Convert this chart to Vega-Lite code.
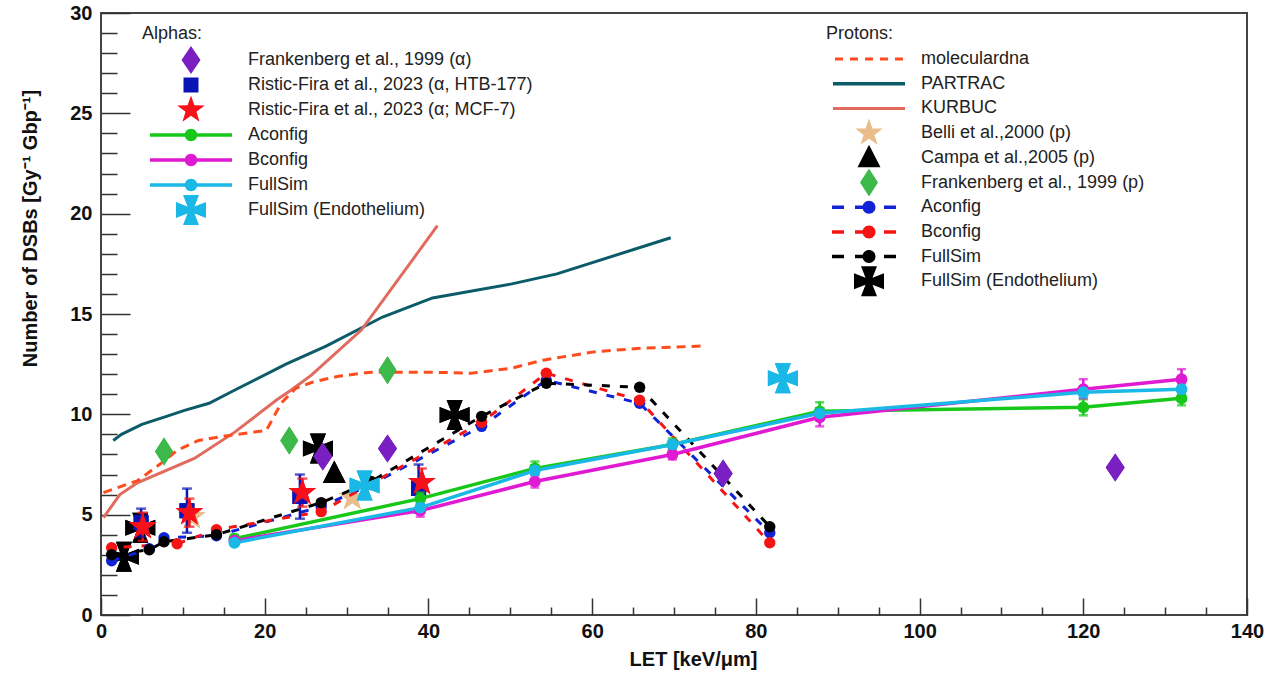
{
  "$schema": "https://vega.github.io/schema/vega-lite/v6.json",
  "width": 1146,
  "height": 602,
  "autosize": {"type": "none"},
  "padding": {"left": 101, "top": 13, "right": 21, "bottom": 58},
  "background": "white",
  "config": {
    "view": {"stroke": "#444", "strokeWidth": 2},
    "font": "Liberation Sans"
  },
  "datasets": {
    "alpha_sim": [
      {"series": "Aconfig", "LET": 16.3, "DSB": 3.8, "lo": 3.6, "hi": 4.0},
      {"series": "Aconfig", "LET": 39, "DSB": 5.8, "lo": 5.5, "hi": 6.1},
      {"series": "Aconfig", "LET": 53, "DSB": 7.3, "lo": 7.0, "hi": 7.65},
      {"series": "Aconfig", "LET": 69.8, "DSB": 8.5, "lo": 8.2, "hi": 8.8},
      {"series": "Aconfig", "LET": 87.8, "DSB": 10.15, "lo": 9.75, "hi": 10.6},
      {"series": "Aconfig", "LET": 120, "DSB": 10.35, "lo": 9.95, "hi": 10.75},
      {"series": "Aconfig", "LET": 132, "DSB": 10.8, "lo": 10.45, "hi": 11.15},
      {"series": "Bconfig", "LET": 16.3, "DSB": 3.7, "lo": 3.5, "hi": 3.9},
      {"series": "Bconfig", "LET": 39, "DSB": 5.2, "lo": 4.9, "hi": 5.5},
      {"series": "Bconfig", "LET": 53, "DSB": 6.65, "lo": 6.35, "hi": 6.95},
      {"series": "Bconfig", "LET": 69.8, "DSB": 8.0, "lo": 7.75, "hi": 8.3},
      {"series": "Bconfig", "LET": 87.8, "DSB": 9.85, "lo": 9.4, "hi": 10.3},
      {"series": "Bconfig", "LET": 120, "DSB": 11.25, "lo": 10.8, "hi": 11.75},
      {"series": "Bconfig", "LET": 132, "DSB": 11.75, "lo": 11.3, "hi": 12.25},
      {"series": "FullSim", "LET": 16.3, "DSB": 3.6, "lo": 3.45, "hi": 3.75},
      {"series": "FullSim", "LET": 39, "DSB": 5.35, "lo": 5.1, "hi": 5.6},
      {"series": "FullSim", "LET": 53, "DSB": 7.2, "lo": 7.0, "hi": 7.45},
      {"series": "FullSim", "LET": 69.8, "DSB": 8.5, "lo": 8.3, "hi": 8.7},
      {"series": "FullSim", "LET": 87.8, "DSB": 10.05, "lo": 9.8, "hi": 10.3},
      {"series": "FullSim", "LET": 120, "DSB": 11.1, "lo": 10.85, "hi": 11.35},
      {"series": "FullSim", "LET": 132, "DSB": 11.25, "lo": 11.0, "hi": 11.5}
    ],
    "alpha_exp": [
      {"series": "Frankenberg et al., 1999 (α)", "LET": 27.1, "DSB": 7.9},
      {"series": "Frankenberg et al., 1999 (α)", "LET": 35, "DSB": 8.3},
      {"series": "Frankenberg et al., 1999 (α)", "LET": 76, "DSB": 7.05},
      {"series": "Frankenberg et al., 1999 (α)", "LET": 123.9, "DSB": 7.35},
      {"series": "Ristic-Fira et al., 2023 (α, HTB-177)", "LET": 4.9, "DSB": 4.6, "lo": 3.9, "hi": 5.3},
      {"series": "Ristic-Fira et al., 2023 (α, HTB-177)", "LET": 10.5, "DSB": 5.2, "lo": 4.1, "hi": 6.3},
      {"series": "Ristic-Fira et al., 2023 (α, HTB-177)", "LET": 24.3, "DSB": 5.9, "lo": 4.8, "hi": 7.0},
      {"series": "Ristic-Fira et al., 2023 (α, HTB-177)", "LET": 38.8, "DSB": 6.3, "lo": 5.1, "hi": 7.5},
      {"series": "Ristic-Fira et al., 2023 (α; MCF-7)", "LET": 5.1, "DSB": 4.4, "lo": 3.7, "hi": 5.1},
      {"series": "Ristic-Fira et al., 2023 (α; MCF-7)", "LET": 10.8, "DSB": 5.1, "lo": 4.4, "hi": 5.8},
      {"series": "Ristic-Fira et al., 2023 (α; MCF-7)", "LET": 24.6, "DSB": 6.1, "lo": 5.4, "hi": 6.8},
      {"series": "Ristic-Fira et al., 2023 (α; MCF-7)", "LET": 39.2, "DSB": 6.6, "lo": 5.9, "hi": 7.3},
      {"series": "FullSim (Endothelium)", "LET": 32.2, "DSB": 6.45},
      {"series": "FullSim (Endothelium)", "LET": 83.3, "DSB": 11.8}
    ],
    "proton_models": [
      {"series": "PARTRAC", "LET": 1.5, "DSB": 8.7},
      {"series": "PARTRAC", "LET": 2.5, "DSB": 9.0},
      {"series": "PARTRAC", "LET": 5, "DSB": 9.5},
      {"series": "PARTRAC", "LET": 8, "DSB": 9.9},
      {"series": "PARTRAC", "LET": 10.2, "DSB": 10.2},
      {"series": "PARTRAC", "LET": 13.2, "DSB": 10.55},
      {"series": "PARTRAC", "LET": 16.3, "DSB": 11.2},
      {"series": "PARTRAC", "LET": 22.6, "DSB": 12.5},
      {"series": "PARTRAC", "LET": 27.5, "DSB": 13.4},
      {"series": "PARTRAC", "LET": 34.4, "DSB": 14.85},
      {"series": "PARTRAC", "LET": 40.5, "DSB": 15.8},
      {"series": "PARTRAC", "LET": 50.2, "DSB": 16.5},
      {"series": "PARTRAC", "LET": 55.7, "DSB": 17.0},
      {"series": "PARTRAC", "LET": 69.6, "DSB": 18.8},
      {"series": "KURBUC", "LET": 0.3, "DSB": 4.85},
      {"series": "KURBUC", "LET": 2.3, "DSB": 6.0},
      {"series": "KURBUC", "LET": 4.5, "DSB": 6.6},
      {"series": "KURBUC", "LET": 11.4, "DSB": 7.8},
      {"series": "KURBUC", "LET": 16.3, "DSB": 9.1},
      {"series": "KURBUC", "LET": 21.4, "DSB": 10.7},
      {"series": "KURBUC", "LET": 23.2, "DSB": 11.2},
      {"series": "KURBUC", "LET": 25.7, "DSB": 11.95},
      {"series": "KURBUC", "LET": 31.8, "DSB": 14.2},
      {"series": "KURBUC", "LET": 41.1, "DSB": 19.4},
      {"series": "moleculardna", "LET": 0.3, "DSB": 6.1},
      {"series": "moleculardna", "LET": 4.5, "DSB": 6.7},
      {"series": "moleculardna", "LET": 7.8, "DSB": 7.7},
      {"series": "moleculardna", "LET": 9.3, "DSB": 8.2},
      {"series": "moleculardna", "LET": 11.9, "DSB": 8.7},
      {"series": "moleculardna", "LET": 15.7, "DSB": 8.95},
      {"series": "moleculardna", "LET": 20.2, "DSB": 9.2},
      {"series": "moleculardna", "LET": 22.0, "DSB": 10.55},
      {"series": "moleculardna", "LET": 23.8, "DSB": 11.3},
      {"series": "moleculardna", "LET": 25.8, "DSB": 11.6},
      {"series": "moleculardna", "LET": 29, "DSB": 11.9},
      {"series": "moleculardna", "LET": 33, "DSB": 12.1},
      {"series": "moleculardna", "LET": 40.3, "DSB": 12.1},
      {"series": "moleculardna", "LET": 45.2, "DSB": 12.05},
      {"series": "moleculardna", "LET": 50.2, "DSB": 12.3},
      {"series": "moleculardna", "LET": 54, "DSB": 12.7},
      {"series": "moleculardna", "LET": 60, "DSB": 13.1},
      {"series": "moleculardna", "LET": 66, "DSB": 13.3},
      {"series": "moleculardna", "LET": 73.3, "DSB": 13.4}
    ],
    "proton_sim": [
      {"series": "Aconfig", "LET": 1.3, "DSB": 2.7},
      {"series": "Aconfig", "LET": 5.9, "DSB": 3.3},
      {"series": "Aconfig", "LET": 7.7, "DSB": 3.85},
      {"series": "Aconfig", "LET": 14.1, "DSB": 3.95},
      {"series": "Aconfig", "LET": 26.9, "DSB": 5.4},
      {"series": "Aconfig", "LET": 33, "DSB": 6.5},
      {"series": "Aconfig", "LET": 46.5, "DSB": 9.4},
      {"series": "Aconfig", "LET": 54.4, "DSB": 11.7},
      {"series": "Aconfig", "LET": 65.8, "DSB": 10.55},
      {"series": "Aconfig", "LET": 81.7, "DSB": 4.1},
      {"series": "Bconfig", "LET": 1.3, "DSB": 3.35},
      {"series": "Bconfig", "LET": 9.3, "DSB": 3.55},
      {"series": "Bconfig", "LET": 14.1, "DSB": 4.25},
      {"series": "Bconfig", "LET": 26.9, "DSB": 5.15},
      {"series": "Bconfig", "LET": 33, "DSB": 6.55},
      {"series": "Bconfig", "LET": 46.5, "DSB": 9.6},
      {"series": "Bconfig", "LET": 54.4, "DSB": 12.05},
      {"series": "Bconfig", "LET": 65.8, "DSB": 10.7},
      {"series": "Bconfig", "LET": 81.7, "DSB": 3.6},
      {"series": "FullSim", "LET": 1.3, "DSB": 3.0},
      {"series": "FullSim", "LET": 5.9, "DSB": 3.25},
      {"series": "FullSim", "LET": 7.7, "DSB": 3.65},
      {"series": "FullSim", "LET": 14.1, "DSB": 4.0},
      {"series": "FullSim", "LET": 26.9, "DSB": 5.6},
      {"series": "FullSim", "LET": 33, "DSB": 6.65},
      {"series": "FullSim", "LET": 46.5, "DSB": 9.9},
      {"series": "FullSim", "LET": 54.4, "DSB": 11.55},
      {"series": "FullSim", "LET": 65.8, "DSB": 11.35},
      {"series": "FullSim", "LET": 81.7, "DSB": 4.4}
    ],
    "proton_exp": [
      {"series": "Belli et al.,2000 (p)", "LET": 11.1, "DSB": 4.9},
      {"series": "Belli et al.,2000 (p)", "LET": 30.7, "DSB": 5.85},
      {"series": "Campa et al.,2005 (p)", "LET": 28.5, "DSB": 7.05},
      {"series": "Frankenberg et al., 1999 (p)", "LET": 7.7, "DSB": 8.15},
      {"series": "Frankenberg et al., 1999 (p)", "LET": 23.0, "DSB": 8.7},
      {"series": "Frankenberg et al., 1999 (p)", "LET": 35.0, "DSB": 12.2},
      {"series": "FullSim (Endothelium)", "LET": 2.8, "DSB": 2.9},
      {"series": "FullSim (Endothelium)", "LET": 4.8, "DSB": 4.35},
      {"series": "FullSim (Endothelium)", "LET": 26.5, "DSB": 8.3},
      {"series": "FullSim (Endothelium)", "LET": 43.2, "DSB": 9.97}
    ]
  },
  "layer": [
    {
      "data": {"values": []},
      "mark": {"type": "point", "opacity": 0},
      "encoding": {
        "x": {"field": "LET", "type": "quantitative", "scale": {"domain": [0, 140], "nice": false, "zero": false},
          "axis": {"orient": "bottom", "values": [0, 20, 40, 60, 80, 100, 120, 140], "ticks": false, "domain": false, "grid": false,
            "labelFont": "Liberation Sans", "labelFontWeight": "bold", "labelFontSize": 20, "labelColor": "#111", "labelPadding": 6,
            "labelFlush": false, "labelOverlap": false,
            "title": "LET [keV/μm]", "titleFont": "Liberation Sans", "titleFontSize": 20, "titleFontWeight": "bold", "titleColor": "#111",
            "titleX": 592, "titleY": 34, "titleBaseline": "top"}},
        "y": {"field": "DSB", "type": "quantitative", "scale": {"domain": [0, 30], "nice": false},
          "axis": {"orient": "left", "values": [0, 5, 10, 15, 20, 25, 30], "ticks": false, "domain": false, "grid": false,
            "labelFont": "Liberation Sans", "labelFontWeight": "bold", "labelFontSize": 20, "labelColor": "#111", "labelPadding": 9,
            "labelFlush": false, "labelOverlap": false,
            "title": "Number of DSBs [Gy⁻¹ Gbp⁻¹]", "titleFont": "Liberation Sans", "titleFontSize": 20, "titleFontWeight": "bold", "titleColor": "#111",
            "titleX": -61, "titleY": 215, "titleAlign": "center"}}
      }
    },
    {
      "data": {"values": []},
      "mark": {"type": "point", "opacity": 0},
      "encoding": {
        "x": {"field": "LET", "type": "quantitative", "scale": {"domain": [0, 140], "nice": false, "zero": false},
          "axis": {"orient": "bottom", "values": [0, 20, 40, 60, 80, 100, 120, 140], "labels": false, "domain": false, "grid": false,
            "ticks": true, "tickSize": -17, "tickWidth": 1.5, "tickColor": "#333", "title": null}},
        "y": {"field": "DSB", "type": "quantitative", "scale": {"domain": [0, 30], "nice": false},
          "axis": {"orient": "left", "values": [0, 5, 10, 15, 20, 25, 30], "labels": false, "domain": false, "grid": false,
            "ticks": true, "tickSize": -29, "tickWidth": 1.5, "tickColor": "#333", "title": null}}
      }
    },
    {
      "data": {"values": []},
      "mark": {"type": "point", "opacity": 0},
      "encoding": {
        "x": {"field": "LET", "type": "quantitative", "scale": {"domain": [0, 140], "nice": false, "zero": false},
          "axis": {"orient": "bottom", "values": [5, 10, 15, 25, 30, 35, 45, 50, 55, 65, 70, 75, 85, 90, 95, 105, 110, 115, 125, 130, 135], "labels": false, "domain": false, "grid": false,
            "ticks": true, "tickSize": -8, "tickWidth": 1.5, "tickColor": "#333", "title": null}},
        "y": {"field": "DSB", "type": "quantitative", "scale": {"domain": [0, 30], "nice": false},
          "axis": {"orient": "left", "values": [1, 2, 3, 4, 6, 7, 8, 9, 11, 12, 13, 14, 16, 17, 18, 19, 21, 22, 23, 24, 26, 27, 28, 29], "labels": false, "domain": false, "grid": false,
            "ticks": true, "tickSize": -16, "tickWidth": 1.5, "tickColor": "#333", "title": null}}
      }
    },
    {
      "layer": [
        {
          "data": {"name": "proton_exp"},
          "mark": {"type": "point", "filled": true, "opacity": 1, "size": 100, "strokeWidth": 0},
          "encoding": {
            "x": {"field": "LET", "type": "quantitative", "scale": {"domain": [0, 140], "nice": false, "zero": false}, "axis": null},
            "y": {"field": "DSB", "type": "quantitative", "scale": {"domain": [0, 30], "nice": false}, "axis": null},
            "color": {"field": "series", "type": "nominal",
              "scale": {"domain": ["moleculardna", "PARTRAC", "KURBUC", "Belli et al.,2000 (p)", "Campa et al.,2005 (p)", "Frankenberg et al., 1999 (p)", "Aconfig", "Bconfig", "FullSim", "FullSim (Endothelium)"],
                "range": ["#ff4c1e", "#0c5b69", "#e06b5e", "#e9bd8c", "#000000", "#3cb94a", "#1024d6", "#f51414", "#000000", "#000000"]},
              "legend": {"title": "Protons:", "orient": "none", "legendX": 725, "legendY": 12, "direction": "vertical", "padding": 0,
                "titleFont": "Liberation Sans", "titleFontSize": 18, "titleFontWeight": "normal", "titleColor": "#222", "titlePadding": 7,
                "labelFont": "Liberation Sans", "labelFontSize": 18, "labelColor": "#222", "labelOffset": 43, "symbolOffset": 34, "labelLimit": 400,
                "symbolSize": 100, "symbolStrokeWidth": 0, "symbolOpacity": 1, "rowPadding": -5.3}},
            "shape": {"field": "series", "type": "nominal",
              "scale": {"domain": ["moleculardna", "PARTRAC", "KURBUC", "Belli et al.,2000 (p)", "Campa et al.,2005 (p)", "Frankenberg et al., 1999 (p)", "Aconfig", "Bconfig", "FullSim", "FullSim (Endothelium)"],
                "range": [
                  "M-7.2,0L-7.2,0M7.2,0L7.2,0M0,-3L0,-3M0,3L0,3M-6.8,-0.3L-5.2,-0.3L-5.2,0.3L-6.8,0.3ZM-3.8,-0.3L-2.2,-0.3L-2.2,0.3L-3.8,0.3ZM-0.8,-0.3L0.8,-0.3L0.8,0.3L-0.8,0.3ZM2.2,-0.3L3.8,-0.3L3.8,0.3L2.2,0.3ZM5.2,-0.3L6.8,-0.3L6.8,0.3L5.2,0.3Z",
                  "M-7.2,0L-7.2,0M7.2,0L7.2,0M0,-3L0,-3M0,3L0,3M-7.2,-0.35L7.2,-0.35L7.2,0.35L-7.2,0.35Z",
                  "M-7.2,0L-7.2,0M7.2,0L7.2,0M0,-3L0,-3M0,3L0,3M-7.2,-0.3L7.2,-0.3L7.2,0.3L-7.2,0.3Z",
                  "M-7.2,0L-7.2,0M7.2,0L7.2,0M0,-3L0,-3M0,3L0,3M0,-2.9L0.68,-0.93L2.76,-0.9L1.09,0.36L1.71,2.35L0,1.15L-1.71,2.35L-1.09,0.36L-2.76,-0.9L-0.68,-0.93Z",
                  "M-7.2,0L-7.2,0M7.2,0L7.2,0M0,-3L0,-3M0,3L0,3M0,-2.6L2.3,1.9L-2.3,1.9Z",
                  "M-7.2,0L-7.2,0M7.2,0L7.2,0M0,-3L0,-3M0,3L0,3M0,-2.8L1.8,0L0,2.8L-1.8,0Z",
                  "M-7.2,0L-7.2,0M7.2,0L7.2,0M0,-3L0,-3M0,3L0,3M-7.4,-0.35L-5,-0.35L-5,0.35L-7.4,0.35ZM-2.8,-0.35L-0.5,-0.35L-0.5,0.35L-2.8,0.35ZM3,-0.35L5.4,-0.35L5.4,0.35L3,0.35ZM1.3,0A1.3,1.3,0,1,1,-1.3,0A1.3,1.3,0,1,1,1.3,0Z",
                  "M-7.2,0L-7.2,0M7.2,0L7.2,0M0,-3L0,-3M0,3L0,3M-7.4,-0.35L-5,-0.35L-5,0.35L-7.4,0.35ZM-2.8,-0.35L-0.5,-0.35L-0.5,0.35L-2.8,0.35ZM3,-0.35L5.4,-0.35L5.4,0.35L3,0.35ZM1.3,0A1.3,1.3,0,1,1,-1.3,0A1.3,1.3,0,1,1,1.3,0Z",
                  "M-7.2,0L-7.2,0M7.2,0L7.2,0M0,-3L0,-3M0,3L0,3M-7.4,-0.35L-5,-0.35L-5,0.35L-7.4,0.35ZM-2.8,-0.35L-0.5,-0.35L-0.5,0.35L-2.8,0.35ZM3,-0.35L5.4,-0.35L5.4,0.35L3,0.35ZM1.3,0A1.3,1.3,0,1,1,-1.3,0A1.3,1.3,0,1,1,1.3,0Z",
                  "M-7.2,0L-7.2,0M7.2,0L7.2,0M0,-3L0,-3M0,3L0,3M-0.7,-0.7L-1.6,-3L1.6,-3L0.7,-0.7L3,-1.6L3,1.6L0.7,0.7L1.6,3L-1.6,3L-0.7,0.7L-3,1.6L-3,-1.6Z"
                ]},
              "legend": {"title": "Protons:", "orient": "none", "legendX": 725, "legendY": 12, "direction": "vertical", "padding": 0,
                "titleFont": "Liberation Sans", "titleFontSize": 18, "titleFontWeight": "normal", "titleColor": "#222", "titlePadding": 7,
                "labelFont": "Liberation Sans", "labelFontSize": 18, "labelColor": "#222", "labelOffset": 43, "symbolOffset": 34, "labelLimit": 400,
                "symbolSize": 100, "symbolStrokeWidth": 0, "symbolOpacity": 1, "rowPadding": -5.3}}
          }
        },
        {
          "data": {"name": "proton_models"},
          "transform": [{"filter": "datum.series !== 'moleculardna'"}],
          "mark": {"type": "line", "strokeWidth": 3},
          "encoding": {
            "x": {"field": "LET", "type": "quantitative", "scale": {"domain": [0, 140], "nice": false, "zero": false}, "axis": null},
            "y": {"field": "DSB", "type": "quantitative", "scale": {"domain": [0, 30], "nice": false}, "axis": null},
            "color": {"field": "series", "type": "nominal", "legend": null,
              "scale": {"domain": ["moleculardna", "PARTRAC", "KURBUC", "Belli et al.,2000 (p)", "Campa et al.,2005 (p)", "Frankenberg et al., 1999 (p)", "Aconfig", "Bconfig", "FullSim", "FullSim (Endothelium)"],
                "range": ["#ff4c1e", "#0c5b69", "#e06b5e", "#e9bd8c", "#000000", "#3cb94a", "#1024d6", "#f51414", "#000000", "#000000"]}}
          }
        },
        {
          "data": {"name": "proton_models"},
          "transform": [{"filter": "datum.series === 'moleculardna'"}],
          "mark": {"type": "line", "strokeWidth": 3, "strokeDash": [9, 6]},
          "encoding": {
            "x": {"field": "LET", "type": "quantitative", "scale": {"domain": [0, 140], "nice": false, "zero": false}, "axis": null},
            "y": {"field": "DSB", "type": "quantitative", "scale": {"domain": [0, 30], "nice": false}, "axis": null},
            "color": {"field": "series", "type": "nominal", "legend": null,
              "scale": {"domain": ["moleculardna", "PARTRAC", "KURBUC", "Belli et al.,2000 (p)", "Campa et al.,2005 (p)", "Frankenberg et al., 1999 (p)", "Aconfig", "Bconfig", "FullSim", "FullSim (Endothelium)"],
                "range": ["#ff4c1e", "#0c5b69", "#e06b5e", "#e9bd8c", "#000000", "#3cb94a", "#1024d6", "#f51414", "#000000", "#000000"]}}
          }
        },
        {
          "data": {"name": "proton_exp"},
          "mark": {"type": "point", "filled": true, "opacity": 1, "size": 100, "strokeWidth": 0},
          "encoding": {
            "x": {"field": "LET", "type": "quantitative", "scale": {"domain": [0, 140], "nice": false, "zero": false}, "axis": null},
            "y": {"field": "DSB", "type": "quantitative", "scale": {"domain": [0, 30], "nice": false}, "axis": null},
            "color": {"field": "series", "type": "nominal", "legend": null,
              "scale": {"domain": ["moleculardna", "PARTRAC", "KURBUC", "Belli et al.,2000 (p)", "Campa et al.,2005 (p)", "Frankenberg et al., 1999 (p)", "Aconfig", "Bconfig", "FullSim", "FullSim (Endothelium)"],
                "range": ["#ff4c1e", "#0c5b69", "#e06b5e", "#e9bd8c", "#000000", "#3cb94a", "#1024d6", "#f51414", "#000000", "#000000"]}},
            "shape": {"field": "series", "type": "nominal", "legend": null,
              "scale": {"domain": ["moleculardna", "PARTRAC", "KURBUC", "Belli et al.,2000 (p)", "Campa et al.,2005 (p)", "Frankenberg et al., 1999 (p)", "Aconfig", "Bconfig", "FullSim", "FullSim (Endothelium)"],
                "range": [
                  "M-7.2,0L-7.2,0M7.2,0L7.2,0M0,-3L0,-3M0,3L0,3M-6.8,-0.3L-5.2,-0.3L-5.2,0.3L-6.8,0.3ZM-3.8,-0.3L-2.2,-0.3L-2.2,0.3L-3.8,0.3ZM-0.8,-0.3L0.8,-0.3L0.8,0.3L-0.8,0.3ZM2.2,-0.3L3.8,-0.3L3.8,0.3L2.2,0.3ZM5.2,-0.3L6.8,-0.3L6.8,0.3L5.2,0.3Z",
                  "M-7.2,0L-7.2,0M7.2,0L7.2,0M0,-3L0,-3M0,3L0,3M-7.2,-0.35L7.2,-0.35L7.2,0.35L-7.2,0.35Z",
                  "M-7.2,0L-7.2,0M7.2,0L7.2,0M0,-3L0,-3M0,3L0,3M-7.2,-0.3L7.2,-0.3L7.2,0.3L-7.2,0.3Z",
                  "M-7.2,0L-7.2,0M7.2,0L7.2,0M0,-3L0,-3M0,3L0,3M0,-2.9L0.68,-0.93L2.76,-0.9L1.09,0.36L1.71,2.35L0,1.15L-1.71,2.35L-1.09,0.36L-2.76,-0.9L-0.68,-0.93Z",
                  "M-7.2,0L-7.2,0M7.2,0L7.2,0M0,-3L0,-3M0,3L0,3M0,-2.6L2.3,1.9L-2.3,1.9Z",
                  "M-7.2,0L-7.2,0M7.2,0L7.2,0M0,-3L0,-3M0,3L0,3M0,-2.8L1.8,0L0,2.8L-1.8,0Z",
                  "M-7.2,0L-7.2,0M7.2,0L7.2,0M0,-3L0,-3M0,3L0,3M-7.4,-0.35L-5,-0.35L-5,0.35L-7.4,0.35ZM-2.8,-0.35L-0.5,-0.35L-0.5,0.35L-2.8,0.35ZM3,-0.35L5.4,-0.35L5.4,0.35L3,0.35ZM1.3,0A1.3,1.3,0,1,1,-1.3,0A1.3,1.3,0,1,1,1.3,0Z",
                  "M-7.2,0L-7.2,0M7.2,0L7.2,0M0,-3L0,-3M0,3L0,3M-7.4,-0.35L-5,-0.35L-5,0.35L-7.4,0.35ZM-2.8,-0.35L-0.5,-0.35L-0.5,0.35L-2.8,0.35ZM3,-0.35L5.4,-0.35L5.4,0.35L3,0.35ZM1.3,0A1.3,1.3,0,1,1,-1.3,0A1.3,1.3,0,1,1,1.3,0Z",
                  "M-7.2,0L-7.2,0M7.2,0L7.2,0M0,-3L0,-3M0,3L0,3M-7.4,-0.35L-5,-0.35L-5,0.35L-7.4,0.35ZM-2.8,-0.35L-0.5,-0.35L-0.5,0.35L-2.8,0.35ZM3,-0.35L5.4,-0.35L5.4,0.35L3,0.35ZM1.3,0A1.3,1.3,0,1,1,-1.3,0A1.3,1.3,0,1,1,1.3,0Z",
                  "M-7.2,0L-7.2,0M7.2,0L7.2,0M0,-3L0,-3M0,3L0,3M-0.7,-0.7L-1.6,-3L1.6,-3L0.7,-0.7L3,-1.6L3,1.6L0.7,0.7L1.6,3L-1.6,3L-0.7,0.7L-3,1.6L-3,-1.6Z"
                ]}}
          }
        },
        {
          "data": {"name": "proton_sim"},
          "transform": [{"filter": "datum.series === 'Aconfig'"}],
          "mark": {"type": "line", "strokeWidth": 3, "strokeDash": [8, 10], "strokeDashOffset": 0},
          "encoding": {
            "x": {"field": "LET", "type": "quantitative", "scale": {"domain": [0, 140], "nice": false, "zero": false}, "axis": null},
            "y": {"field": "DSB", "type": "quantitative", "scale": {"domain": [0, 30], "nice": false}, "axis": null},
            "color": {"field": "series", "type": "nominal", "legend": null,
              "scale": {"domain": ["moleculardna", "PARTRAC", "KURBUC", "Belli et al.,2000 (p)", "Campa et al.,2005 (p)", "Frankenberg et al., 1999 (p)", "Aconfig", "Bconfig", "FullSim", "FullSim (Endothelium)"],
                "range": ["#ff4c1e", "#0c5b69", "#e06b5e", "#e9bd8c", "#000000", "#3cb94a", "#1024d6", "#f51414", "#000000", "#000000"]}}
          }
        },
        {
          "data": {"name": "proton_sim"},
          "transform": [{"filter": "datum.series === 'Bconfig'"}],
          "mark": {"type": "line", "strokeWidth": 3, "strokeDash": [8, 10], "strokeDashOffset": 6},
          "encoding": {
            "x": {"field": "LET", "type": "quantitative", "scale": {"domain": [0, 140], "nice": false, "zero": false}, "axis": null},
            "y": {"field": "DSB", "type": "quantitative", "scale": {"domain": [0, 30], "nice": false}, "axis": null},
            "color": {"field": "series", "type": "nominal", "legend": null,
              "scale": {"domain": ["moleculardna", "PARTRAC", "KURBUC", "Belli et al.,2000 (p)", "Campa et al.,2005 (p)", "Frankenberg et al., 1999 (p)", "Aconfig", "Bconfig", "FullSim", "FullSim (Endothelium)"],
                "range": ["#ff4c1e", "#0c5b69", "#e06b5e", "#e9bd8c", "#000000", "#3cb94a", "#1024d6", "#f51414", "#000000", "#000000"]}}
          }
        },
        {
          "data": {"name": "proton_sim"},
          "transform": [{"filter": "datum.series === 'FullSim'"}],
          "mark": {"type": "line", "strokeWidth": 3, "strokeDash": [8, 10], "strokeDashOffset": 12},
          "encoding": {
            "x": {"field": "LET", "type": "quantitative", "scale": {"domain": [0, 140], "nice": false, "zero": false}, "axis": null},
            "y": {"field": "DSB", "type": "quantitative", "scale": {"domain": [0, 30], "nice": false}, "axis": null},
            "color": {"field": "series", "type": "nominal", "legend": null,
              "scale": {"domain": ["moleculardna", "PARTRAC", "KURBUC", "Belli et al.,2000 (p)", "Campa et al.,2005 (p)", "Frankenberg et al., 1999 (p)", "Aconfig", "Bconfig", "FullSim", "FullSim (Endothelium)"],
                "range": ["#ff4c1e", "#0c5b69", "#e06b5e", "#e9bd8c", "#000000", "#3cb94a", "#1024d6", "#f51414", "#000000", "#000000"]}}
          }
        },
        {
          "data": {"name": "proton_sim"},
          "mark": {"type": "point", "shape": "circle", "filled": true, "opacity": 1, "size": 130, "strokeWidth": 0},
          "encoding": {
            "x": {"field": "LET", "type": "quantitative", "scale": {"domain": [0, 140], "nice": false, "zero": false}, "axis": null},
            "y": {"field": "DSB", "type": "quantitative", "scale": {"domain": [0, 30], "nice": false}, "axis": null},
            "color": {"field": "series", "type": "nominal", "legend": null,
              "scale": {"domain": ["moleculardna", "PARTRAC", "KURBUC", "Belli et al.,2000 (p)", "Campa et al.,2005 (p)", "Frankenberg et al., 1999 (p)", "Aconfig", "Bconfig", "FullSim", "FullSim (Endothelium)"],
                "range": ["#ff4c1e", "#0c5b69", "#e06b5e", "#e9bd8c", "#000000", "#3cb94a", "#1024d6", "#f51414", "#000000", "#000000"]}}
          }
        }
      ]
    },
    {
      "layer": [
        {
          "data": {"name": "alpha_exp"},
          "mark": {"type": "point", "filled": true, "opacity": 1, "size": 100, "strokeWidth": 0},
          "encoding": {
            "x": {"field": "LET", "type": "quantitative", "scale": {"domain": [0, 140], "nice": false, "zero": false}, "axis": null},
            "y": {"field": "DSB", "type": "quantitative", "scale": {"domain": [0, 30], "nice": false}, "axis": null},
            "color": {"field": "series", "type": "nominal",
              "scale": {"domain": ["Frankenberg et al., 1999 (α)", "Ristic-Fira et al., 2023 (α, HTB-177)", "Ristic-Fira et al., 2023 (α; MCF-7)", "Aconfig", "Bconfig", "FullSim", "FullSim (Endothelium)"],
                "range": ["#7a1fc2", "#0a14b4", "#f5101a", "#17c81a", "#e01ad2", "#1ab8e6", "#1ab8e6"]},
              "legend": {"title": "Alphas:", "orient": "none", "legendX": 41, "legendY": 12, "direction": "vertical", "padding": 0,
                "titleFont": "Liberation Sans", "titleFontSize": 18, "titleFontWeight": "normal", "titleColor": "#222", "titlePadding": 8,
                "labelFont": "Liberation Sans", "labelFontSize": 18, "labelColor": "#222", "labelOffset": 48, "symbolOffset": 40, "labelLimit": 400,
                "symbolSize": 100, "symbolStrokeWidth": 0, "symbolOpacity": 1, "rowPadding": -5}},
            "shape": {"field": "series", "type": "nominal",
              "scale": {"domain": ["Frankenberg et al., 1999 (α)", "Ristic-Fira et al., 2023 (α, HTB-177)", "Ristic-Fira et al., 2023 (α; MCF-7)", "Aconfig", "Bconfig", "FullSim", "FullSim (Endothelium)"],
                "range": [
                  "M-8.2,0L-8.2,0M8.2,0L8.2,0M0,-3L0,-3M0,3L0,3M0,-2.8L1.9,0L0,2.8L-1.9,0Z",
                  "M-8.2,0L-8.2,0M8.2,0L8.2,0M0,-3L0,-3M0,3L0,3M-1.5,-1.5L1.5,-1.5L1.5,1.5L-1.5,1.5Z",
                  "M-8.2,0L-8.2,0M8.2,0L8.2,0M0,-3L0,-3M0,3L0,3M0,-2.9L0.68,-0.93L2.76,-0.9L1.09,0.36L1.71,2.35L0,1.15L-1.71,2.35L-1.09,0.36L-2.76,-0.9L-0.68,-0.93Z",
                  "M-8.2,0L-8.2,0M8.2,0L8.2,0M0,-3L0,-3M0,3L0,3M-8.2,-0.35L8.2,-0.35L8.2,0.35L-8.2,0.35ZM1.25,0A1.25,1.25,0,1,1,-1.25,0A1.25,1.25,0,1,1,1.25,0Z",
                  "M-8.2,0L-8.2,0M8.2,0L8.2,0M0,-3L0,-3M0,3L0,3M-8.2,-0.35L8.2,-0.35L8.2,0.35L-8.2,0.35ZM1.25,0A1.25,1.25,0,1,1,-1.25,0A1.25,1.25,0,1,1,1.25,0Z",
                  "M-8.2,0L-8.2,0M8.2,0L8.2,0M0,-3L0,-3M0,3L0,3M-8.2,-0.35L8.2,-0.35L8.2,0.35L-8.2,0.35ZM1.25,0A1.25,1.25,0,1,1,-1.25,0A1.25,1.25,0,1,1,1.25,0Z",
                  "M-8.2,0L-8.2,0M8.2,0L8.2,0M0,-3L0,-3M0,3L0,3M-0.7,-0.7L-1.6,-3L1.6,-3L0.7,-0.7L3,-1.6L3,1.6L0.7,0.7L1.6,3L-1.6,3L-0.7,0.7L-3,1.6L-3,-1.6Z"
                ]},
              "legend": {"title": "Alphas:", "orient": "none", "legendX": 41, "legendY": 12, "direction": "vertical", "padding": 0,
                "titleFont": "Liberation Sans", "titleFontSize": 18, "titleFontWeight": "normal", "titleColor": "#222", "titlePadding": 8,
                "labelFont": "Liberation Sans", "labelFontSize": 18, "labelColor": "#222", "labelOffset": 48, "symbolOffset": 40, "labelLimit": 400,
                "symbolSize": 100, "symbolStrokeWidth": 0, "symbolOpacity": 1, "rowPadding": -5}}
          }
        },
        {
          "data": {"name": "alpha_exp"},
          "transform": [{"filter": "isValid(datum.lo)"}],
          "mark": {"type": "rule", "strokeWidth": 2.5},
          "encoding": {
            "x": {"field": "LET", "type": "quantitative", "scale": {"domain": [0, 140], "nice": false, "zero": false}, "axis": null},
            "y": {"field": "lo", "type": "quantitative", "scale": {"domain": [0, 30], "nice": false}, "axis": null},
            "y2": {"field": "hi"},
            "color": {"field": "series", "type": "nominal", "legend": null,
              "scale": {"domain": ["Frankenberg et al., 1999 (α)", "Ristic-Fira et al., 2023 (α, HTB-177)", "Ristic-Fira et al., 2023 (α; MCF-7)", "Aconfig", "Bconfig", "FullSim", "FullSim (Endothelium)"],
                "range": ["#7a1fc2", "#0a14b4", "#f5101a", "#17c81a", "#e01ad2", "#1ab8e6", "#1ab8e6"]}}
          }
        },
        {
          "data": {"name": "alpha_exp"},
          "transform": [{"filter": "isValid(datum.lo)"}, {"fold": ["lo", "hi"], "as": ["end", "cap"]}],
          "mark": {"type": "tick", "orient": "horizontal", "size": 10, "thickness": 2.5},
          "encoding": {
            "x": {"field": "LET", "type": "quantitative", "scale": {"domain": [0, 140], "nice": false, "zero": false}, "axis": null},
            "y": {"field": "cap", "type": "quantitative", "scale": {"domain": [0, 30], "nice": false}, "axis": null},
            "color": {"field": "series", "type": "nominal", "legend": null,
              "scale": {"domain": ["Frankenberg et al., 1999 (α)", "Ristic-Fira et al., 2023 (α, HTB-177)", "Ristic-Fira et al., 2023 (α; MCF-7)", "Aconfig", "Bconfig", "FullSim", "FullSim (Endothelium)"],
                "range": ["#7a1fc2", "#0a14b4", "#f5101a", "#17c81a", "#e01ad2", "#1ab8e6", "#1ab8e6"]}}
          }
        },
        {
          "data": {"name": "alpha_exp"},
          "mark": {"type": "point", "filled": true, "opacity": 1, "size": 100, "strokeWidth": 0},
          "encoding": {
            "x": {"field": "LET", "type": "quantitative", "scale": {"domain": [0, 140], "nice": false, "zero": false}, "axis": null},
            "y": {"field": "DSB", "type": "quantitative", "scale": {"domain": [0, 30], "nice": false}, "axis": null},
            "color": {"field": "series", "type": "nominal", "legend": null,
              "scale": {"domain": ["Frankenberg et al., 1999 (α)", "Ristic-Fira et al., 2023 (α, HTB-177)", "Ristic-Fira et al., 2023 (α; MCF-7)", "Aconfig", "Bconfig", "FullSim", "FullSim (Endothelium)"],
                "range": ["#7a1fc2", "#0a14b4", "#f5101a", "#17c81a", "#e01ad2", "#1ab8e6", "#1ab8e6"]}},
            "shape": {"field": "series", "type": "nominal", "legend": null,
              "scale": {"domain": ["Frankenberg et al., 1999 (α)", "Ristic-Fira et al., 2023 (α, HTB-177)", "Ristic-Fira et al., 2023 (α; MCF-7)", "Aconfig", "Bconfig", "FullSim", "FullSim (Endothelium)"],
                "range": [
                  "M-8.2,0L-8.2,0M8.2,0L8.2,0M0,-3L0,-3M0,3L0,3M0,-2.8L1.9,0L0,2.8L-1.9,0Z",
                  "M-8.2,0L-8.2,0M8.2,0L8.2,0M0,-3L0,-3M0,3L0,3M-1.5,-1.5L1.5,-1.5L1.5,1.5L-1.5,1.5Z",
                  "M-8.2,0L-8.2,0M8.2,0L8.2,0M0,-3L0,-3M0,3L0,3M0,-2.9L0.68,-0.93L2.76,-0.9L1.09,0.36L1.71,2.35L0,1.15L-1.71,2.35L-1.09,0.36L-2.76,-0.9L-0.68,-0.93Z",
                  "M-8.2,0L-8.2,0M8.2,0L8.2,0M0,-3L0,-3M0,3L0,3M-8.2,-0.35L8.2,-0.35L8.2,0.35L-8.2,0.35ZM1.25,0A1.25,1.25,0,1,1,-1.25,0A1.25,1.25,0,1,1,1.25,0Z",
                  "M-8.2,0L-8.2,0M8.2,0L8.2,0M0,-3L0,-3M0,3L0,3M-8.2,-0.35L8.2,-0.35L8.2,0.35L-8.2,0.35ZM1.25,0A1.25,1.25,0,1,1,-1.25,0A1.25,1.25,0,1,1,1.25,0Z",
                  "M-8.2,0L-8.2,0M8.2,0L8.2,0M0,-3L0,-3M0,3L0,3M-8.2,-0.35L8.2,-0.35L8.2,0.35L-8.2,0.35ZM1.25,0A1.25,1.25,0,1,1,-1.25,0A1.25,1.25,0,1,1,1.25,0Z",
                  "M-8.2,0L-8.2,0M8.2,0L8.2,0M0,-3L0,-3M0,3L0,3M-0.7,-0.7L-1.6,-3L1.6,-3L0.7,-0.7L3,-1.6L3,1.6L0.7,0.7L1.6,3L-1.6,3L-0.7,0.7L-3,1.6L-3,-1.6Z"
                ]}}
          }
        },
        {
          "data": {"name": "alpha_sim"},
          "mark": {"type": "line", "strokeWidth": 3.5},
          "encoding": {
            "x": {"field": "LET", "type": "quantitative", "scale": {"domain": [0, 140], "nice": false, "zero": false}, "axis": null},
            "y": {"field": "DSB", "type": "quantitative", "scale": {"domain": [0, 30], "nice": false}, "axis": null},
            "color": {"field": "series", "type": "nominal", "legend": null,
              "scale": {"domain": ["Frankenberg et al., 1999 (α)", "Ristic-Fira et al., 2023 (α, HTB-177)", "Ristic-Fira et al., 2023 (α; MCF-7)", "Aconfig", "Bconfig", "FullSim", "FullSim (Endothelium)"],
                "range": ["#7a1fc2", "#0a14b4", "#f5101a", "#17c81a", "#e01ad2", "#1ab8e6", "#1ab8e6"]}}
          }
        },
        {
          "data": {"name": "alpha_sim"},
          "mark": {"type": "rule", "strokeWidth": 2.5},
          "encoding": {
            "x": {"field": "LET", "type": "quantitative", "scale": {"domain": [0, 140], "nice": false, "zero": false}, "axis": null},
            "y": {"field": "lo", "type": "quantitative", "scale": {"domain": [0, 30], "nice": false}, "axis": null},
            "y2": {"field": "hi"},
            "color": {"field": "series", "type": "nominal", "legend": null,
              "scale": {"domain": ["Frankenberg et al., 1999 (α)", "Ristic-Fira et al., 2023 (α, HTB-177)", "Ristic-Fira et al., 2023 (α; MCF-7)", "Aconfig", "Bconfig", "FullSim", "FullSim (Endothelium)"],
                "range": ["#7a1fc2", "#0a14b4", "#f5101a", "#17c81a", "#e01ad2", "#1ab8e6", "#1ab8e6"]}}
          }
        },
        {
          "data": {"name": "alpha_sim"},
          "transform": [{"fold": ["lo", "hi"], "as": ["end", "cap"]}],
          "mark": {"type": "tick", "orient": "horizontal", "size": 9, "thickness": 2.5},
          "encoding": {
            "x": {"field": "LET", "type": "quantitative", "scale": {"domain": [0, 140], "nice": false, "zero": false}, "axis": null},
            "y": {"field": "cap", "type": "quantitative", "scale": {"domain": [0, 30], "nice": false}, "axis": null},
            "color": {"field": "series", "type": "nominal", "legend": null,
              "scale": {"domain": ["Frankenberg et al., 1999 (α)", "Ristic-Fira et al., 2023 (α, HTB-177)", "Ristic-Fira et al., 2023 (α; MCF-7)", "Aconfig", "Bconfig", "FullSim", "FullSim (Endothelium)"],
                "range": ["#7a1fc2", "#0a14b4", "#f5101a", "#17c81a", "#e01ad2", "#1ab8e6", "#1ab8e6"]}}
          }
        },
        {
          "data": {"name": "alpha_sim"},
          "mark": {"type": "point", "shape": "circle", "filled": true, "opacity": 1, "size": 140, "strokeWidth": 0},
          "encoding": {
            "x": {"field": "LET", "type": "quantitative", "scale": {"domain": [0, 140], "nice": false, "zero": false}, "axis": null},
            "y": {"field": "DSB", "type": "quantitative", "scale": {"domain": [0, 30], "nice": false}, "axis": null},
            "color": {"field": "series", "type": "nominal", "legend": null,
              "scale": {"domain": ["Frankenberg et al., 1999 (α)", "Ristic-Fira et al., 2023 (α, HTB-177)", "Ristic-Fira et al., 2023 (α; MCF-7)", "Aconfig", "Bconfig", "FullSim", "FullSim (Endothelium)"],
                "range": ["#7a1fc2", "#0a14b4", "#f5101a", "#17c81a", "#e01ad2", "#1ab8e6", "#1ab8e6"]}}
          }
        }
      ]
    }
  ],
  "resolve": {
    "scale": {"color": "independent", "shape": "independent"},
    "axis": {"x": "independent", "y": "independent"},
    "legend": {"color": "independent", "shape": "independent"}
  }
}
